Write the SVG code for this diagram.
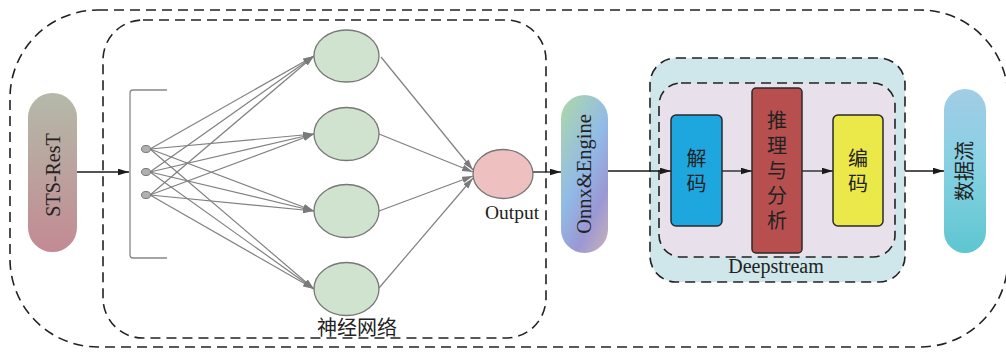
<svg xmlns="http://www.w3.org/2000/svg" width="1006" height="352" viewBox="0 0 1006 352">
  <defs>
    <linearGradient id="gStsRest" x1="0" y1="0" x2="0" y2="1">
      <stop offset="0" stop-color="#b4baa9"/>
      <stop offset="1" stop-color="#c38a93"/>
    </linearGradient>
    <linearGradient id="gOnnx" x1="0.2" y1="0" x2="0.8" y2="1">
      <stop offset="0" stop-color="#a9d4b2"/>
      <stop offset="0.45" stop-color="#92bbe6"/>
      <stop offset="0.78" stop-color="#9a98d4"/>
      <stop offset="1" stop-color="#bcaac0"/>
    </linearGradient>
    <linearGradient id="gStream" x1="0" y1="0" x2="0" y2="1">
      <stop offset="0" stop-color="#a2cde6"/>
      <stop offset="0.5" stop-color="#84d0e2"/>
      <stop offset="1" stop-color="#5ec6d0"/>
    </linearGradient>
    <marker id="arrowGrey" viewBox="0 0 10 6" refX="10" refY="3" markerWidth="11" markerHeight="7" markerUnits="userSpaceOnUse" orient="auto">
      <path d="M0,0 L10,3 L0,6 Z" fill="#7a7a7a"/>
    </marker>
    <marker id="arrowBlack" viewBox="0 0 10 6" refX="10" refY="3" markerWidth="11" markerHeight="7" markerUnits="userSpaceOnUse" orient="auto">
      <path d="M0,0 L10,3 L0,6 Z" fill="#1a1a1a"/>
    </marker>
  </defs>
  <style>
    .dash { fill: none; stroke: #222; stroke-width: 1.6; stroke-dasharray: 10 6; }
    .hidden { fill: #cfe3cf; stroke: #777; stroke-width: 1.3; }
    .inNode { fill: #b0b0b0; stroke: #777; stroke-width: 1; }
    .net { stroke: #808080; stroke-width: 1.2; fill: none; marker-end: url(#arrowGrey); }
    .flow { stroke: #1a1a1a; stroke-width: 1.3; fill: none; marker-end: url(#arrowBlack); }
    .serif { font-family: "Liberation Serif", "Times New Roman", serif; fill: #222; }
    .cjk { font-family: "Noto Sans CJK SC", "Liberation Serif", sans-serif; fill: #222; }
    .vert { writing-mode: vertical-rl; letter-spacing: 5px; font-size: 20px; text-anchor: middle; }
    .box { stroke: #2a2a2a; stroke-width: 1.5; }
  </style>

  <!-- whole pipeline frame -->
  <rect id="pipeline-frame" class="dash" x="10" y="10" width="998" height="337" rx="88" ry="88"/>

  <!-- neural network frame -->
  <g id="neural-network">
    <rect class="dash" x="103" y="20" width="443" height="318" rx="40" ry="40"/>
    <text class="cjk" x="357" y="335" font-size="20" text-anchor="middle">神经网络</text>
  </g>

  <!-- Deepstream frames -->
  <g id="deepstream">
    <rect x="650" y="58" width="255" height="224" rx="26" ry="26" fill="#cfe6ea" stroke="#222" stroke-width="1.6" stroke-dasharray="10 6"/>
    <rect x="659" y="83" width="236" height="174" rx="22" ry="22" fill="#e8e1ec" stroke="#222" stroke-width="1.6" stroke-dasharray="10 6"/>
    <text class="serif" x="776" y="273" font-size="20" text-anchor="middle">Deepstream</text>
  </g>

  <!-- connectors -->
  <g id="connectors">
    <!-- input layer to hidden layer -->
    <line class="net" x1="150" y1="149" x2="314" y2="56"/>
    <line class="net" x1="150" y1="149" x2="314" y2="134"/>
    <line class="net" x1="150" y1="149" x2="314" y2="211"/>
    <line class="net" x1="150" y1="149" x2="314" y2="289"/>
    <line class="net" x1="150" y1="172" x2="314" y2="56"/>
    <line class="net" x1="150" y1="172" x2="314" y2="134"/>
    <line class="net" x1="150" y1="172" x2="314" y2="211"/>
    <line class="net" x1="150" y1="172" x2="314" y2="289"/>
    <line class="net" x1="150" y1="195" x2="314" y2="56"/>
    <line class="net" x1="150" y1="195" x2="314" y2="134"/>
    <line class="net" x1="150" y1="195" x2="314" y2="211"/>
    <line class="net" x1="150" y1="195" x2="314" y2="289"/>
    <!-- hidden layer to output -->
    <line class="net" x1="381" y1="57" x2="473" y2="170"/>
    <line class="net" x1="379" y1="134" x2="473" y2="172"/>
    <line class="net" x1="379" y1="211" x2="473" y2="176"/>
    <line class="net" x1="379" y1="288" x2="473" y2="178"/>
    <!-- main data flow -->
    <line class="flow" x1="77" y1="172" x2="129" y2="172"/>
    <line class="flow" x1="533" y1="172" x2="561" y2="172"/>
    <line class="flow" x1="608" y1="171" x2="671" y2="171"/>
    <line class="flow" x1="722" y1="171" x2="752" y2="171"/>
    <line class="flow" x1="802" y1="171" x2="833" y2="171"/>
    <line class="flow" x1="905" y1="171" x2="944" y2="171"/>
  </g>

  <!-- source model -->
  <g id="sts-rest">
    <rect x="28" y="93" width="49" height="159" rx="24.5" ry="24.5" fill="url(#gStsRest)"/>
    <text class="serif" transform="translate(60,175) rotate(-90)" font-size="20" text-anchor="middle">STS-ResT</text>
  </g>

  <!-- input layer -->
  <g id="input-layer">
    <path d="M167,90 L133,90 Q130,90 130,93 L130,255 Q130,258 133,258 L167,258" fill="none" stroke="#888" stroke-width="1.3"/>
    <ellipse class="inNode" cx="146" cy="149" rx="4.5" ry="3.5"/>
    <ellipse class="inNode" cx="146" cy="172" rx="4.5" ry="3.5"/>
    <ellipse class="inNode" cx="146" cy="195" rx="4.5" ry="3.5"/>
  </g>

  <!-- hidden layer -->
  <g id="hidden-1"><ellipse class="hidden" cx="346.5" cy="56" rx="32.5" ry="26"/></g>
  <g id="hidden-2"><ellipse class="hidden" cx="346.5" cy="134" rx="32.5" ry="26.5"/></g>
  <g id="hidden-3"><ellipse class="hidden" cx="346.5" cy="211" rx="32.5" ry="26.5"/></g>
  <g id="hidden-4"><ellipse class="hidden" cx="346.5" cy="289" rx="32.5" ry="26.5"/></g>

  <!-- output node -->
  <g id="output">
    <ellipse cx="503" cy="174" rx="30" ry="24.5" fill="#efc0c0" stroke="#777" stroke-width="1.3"/>
    <text class="serif" x="512" y="219" font-size="19.5" text-anchor="middle">Output</text>
  </g>

  <!-- inference engine -->
  <g id="onnx-engine">
    <rect x="561" y="95" width="47" height="158" rx="23.5" ry="23.5" fill="url(#gOnnx)"/>
    <text class="serif" transform="translate(591,174) rotate(-90)" font-size="20.5" text-anchor="middle">Onnx&amp;Engine</text>
  </g>

  <!-- decode -->
  <g id="decode">
    <rect class="box" x="671" y="115" width="51" height="111" rx="5" ry="5" fill="#1ea7df"/>
    <text class="cjk vert" x="696.5" y="173">解码</text>
  </g>

  <!-- inference and analysis -->
  <g id="inference">
    <rect class="box" x="752" y="88" width="50" height="165" rx="4" ry="4" fill="#b84f4f"/>
    <text class="cjk vert" x="777" y="173">推理与分析</text>
  </g>

  <!-- encode -->
  <g id="encode">
    <rect class="box" x="833" y="115" width="50" height="111" rx="5" ry="5" fill="#ebe84a"/>
    <text class="cjk vert" x="858" y="173">编码</text>
  </g>

  <!-- output stream -->
  <g id="data-stream">
    <rect x="944" y="89" width="42" height="164" rx="21" ry="21" fill="url(#gStream)"/>
    <text class="cjk" transform="translate(972,171) rotate(-90)" font-size="20" text-anchor="middle">数据流</text>
  </g>
</svg>
